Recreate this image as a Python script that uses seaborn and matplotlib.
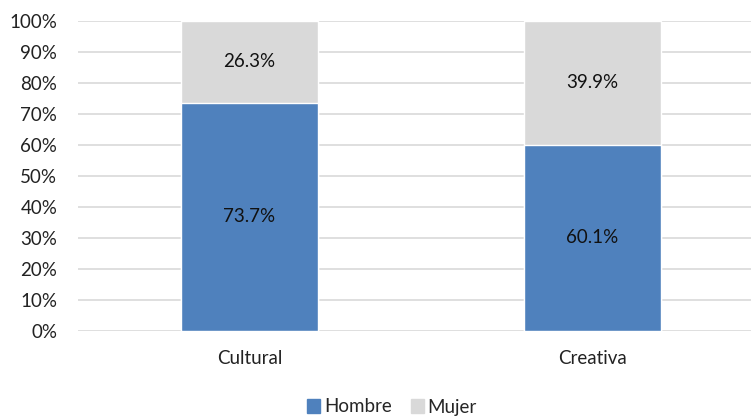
import matplotlib
matplotlib.use("Agg")
import matplotlib.pyplot as plt
import seaborn as sns
import pandas as pd
from matplotlib.patches import Patch

categories = ["Cultural", "Creativa"]
hombre = [73.7, 60.1]
mujer = [26.3, 39.9]
yticks = list(range(0, 101, 10))

sns.set_theme(style="white")
plt.rcParams['font.family'] = ['Lato', 'DejaVu Sans']

blue = "#4F81BD"
gray = "#D9D9D9"
fs = 13.5

fig = plt.figure(figsize=(7.51, 4.16), dpi=100)
ax = fig.add_axes([78/751, 1-331/416, 1-78/751, (331-21)/416])

df = pd.DataFrame({"cat": categories, "hombre": hombre, "mujer": mujer})
df["total"] = df["hombre"] + df["mujer"]

sns.barplot(data=df, x="cat", y="total", color=gray, width=0.4, ax=ax, saturation=1, zorder=3)
sns.barplot(data=df, x="cat", y="hombre", color=blue, width=0.4, ax=ax, saturation=1, zorder=3)

ax.set_xlim(-0.5, 1.462)
ax.set_ylim(0, 100)
ax.set_yticks(yticks)
ax.set_yticklabels([f"{t}%" for t in yticks], fontsize=fs, color="#222222")
ax.tick_params(axis='x', labelsize=fs, colors="#222222", pad=14, length=0)
ax.tick_params(axis='y', length=0, pad=15)
ax.set_xlabel("")
ax.set_ylabel("")
ax.yaxis.grid(True, color="#D9D9D9", linewidth=1.2, zorder=0)
ax.set_axisbelow(True)
for s in ax.spines.values():
    s.set_visible(False)

for i, (h, m) in enumerate(zip(hombre, mujer)):
    ax.text(i, h / 2, f"{h:.1f}%", ha="center", va="center", fontsize=fs, color="#111111", zorder=5)
    ax.text(i, h + m / 2, f"{m:.1f}%", ha="center", va="center", fontsize=fs, color="#111111", zorder=5)

handles = [Patch(color=blue, label="Hombre"), Patch(color=gray, label="Mujer")]
fig.legend(handles=handles, loc="center", bbox_to_anchor=(392/751, 1-407/416), ncol=2,
           frameon=False, fontsize=fs, handlelength=0.7, handleheight=0.7,
           handletextpad=0.2, columnspacing=1.0)

fig.savefig("out.png", dpi=100)
